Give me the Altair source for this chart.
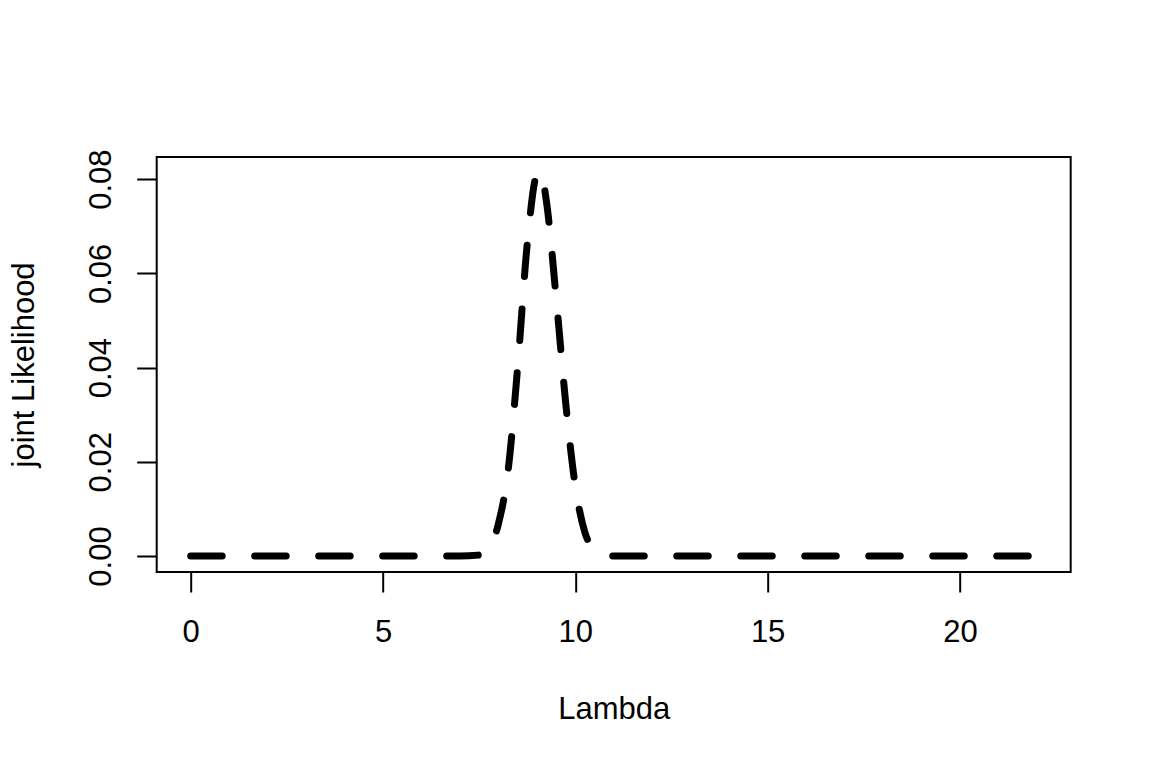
import altair as alt
import pandas as pd

# Values
lam = [0, 1, 2, 3, 4, 5, 6, 7, 7.5, 7.75, 8.0, 8.25, 8.5, 8.75, 9.0, 9.1,
       9.25, 9.5, 9.75, 10.0, 10.25, 10.5, 10.75, 11, 12, 13, 14, 15, 16,
       17, 18, 19, 20, 21, 22]
lik = [0, 0, 0, 0, 0, 0, 0, 0, 0.0002, 0.0015, 0.0068, 0.0180, 0.0400, 0.0662,
       0.0810, 0.0816, 0.0752, 0.0550, 0.0325, 0.0148, 0.0050, 0.0013, 0.0002,
       0, 0, 0, 0, 0, 0, 0, 0, 0, 0, 0, 0]

x_ticks = [0, 5, 10, 15, 20]
y_ticks = [0.0, 0.02, 0.04, 0.06, 0.08]

df = pd.DataFrame({"Lambda": lam, "joint Likelihood": lik})

FONT = "Liberation Sans"
FS = 31

chart = alt.Chart(df).mark_line(
    color="black", strokeWidth=7, strokeDash=[31.5, 32.5], strokeCap="round",
    strokeJoin="round", interpolate="monotone"
).encode(
    x=alt.X("Lambda:Q",
            scale=alt.Scale(domain=[-0.884, 22.88], nice=False, zero=False),
            axis=alt.Axis(values=x_ticks, title="Lambda", grid=False, domain=False,
                          tickSize=20, tickWidth=2, tickColor="black",
                          labelFont=FONT, labelFontSize=FS, labelColor="black",
                          labelBaseline="alphabetic", labelPadding=50,
                          labelFlush=False, labelOverlap=False,
                          titleFont=FONT, titleFontSize=FS, titleFontWeight="normal",
                          titleColor="black", titleBaseline="alphabetic",
                          titleX=457, titleY=146.3, titleAlign="center")),
    y=alt.Y("joint Likelihood:Q",
            scale=alt.Scale(domain=[-0.0034, 0.0847], nice=False, zero=False),
            axis=alt.Axis(values=y_ticks, format=".2f", title="joint Likelihood",
                          grid=False, domain=False,
                          tickSize=20, tickWidth=2, tickColor="black",
                          labelFont=FONT, labelFontSize=FS, labelColor="black",
                          labelAngle=270, labelAlign="center",
                          labelBaseline="alphabetic", labelPadding=26.6,
                          labelFlush=False, labelOverlap=False,
                          titleFont=FONT, titleFontSize=FS, titleFontWeight="normal",
                          titleColor="black", titleAngle=270, titleAlign="center",
                          titleBaseline="alphabetic", titleX=-123.4, titleY=207.4)),
).properties(
    width=914, height=415,
    autosize=alt.AutoSizeParams(type="none"),
    padding={"left": 148.7, "top": 149, "right": 73, "bottom": 188},
).configure(
    background="white"
).configure_view(
    stroke="black", strokeWidth=2, fill="white"
)

chart.save("out.html", embed_options={"renderer": "svg", "actions": False})
